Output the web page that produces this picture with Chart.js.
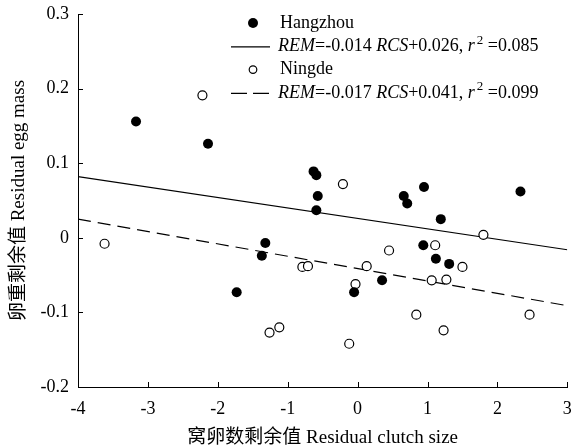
<!DOCTYPE html>
<html>
<head>
<meta charset="utf-8">
<script src="https://cdn.jsdelivr.net/npm/chart.js@4/dist/chart.umd.min.js"></script>
<style>
    html, body { margin: 0; padding: 0; background: #fff; }
    #wrap { width: 573px; height: 447px; }
</style>
</head>
<body>
<div id="wrap"><canvas id="eggChart" width="573" height="447"></canvas></div>
<script>
// values
const hangzhouX = [-3.17, -2.14, -0.63, -0.59, -0.57, -0.59, -1.32, -1.37, -1.73, 0.95, 0.66, 0.71, 2.33, 1.19, 0.94, 1.12, 1.31, 0.35, -0.05];
const hangzhouY = [0.156, 0.126, 0.089, 0.084, 0.056, 0.037, -0.007, -0.024, -0.073, 0.068, 0.056, 0.046, 0.062, 0.025, -0.010, -0.028, -0.035, -0.057, -0.073];

const ningdeX = [-2.22, -0.21, -3.62, -0.79, -0.71, -1.26, -1.12, 1.80, 0.45, 1.11, 0.13, 1.50, -0.03, 1.06, 1.27, 0.84, 2.46, 1.23, -0.12];
const ningdeY = [0.191, 0.072, -0.008, -0.039, -0.038, -0.127, -0.120, 0.004, -0.017, -0.010, -0.038, -0.039, -0.062, -0.057, -0.056, -0.103, -0.103, -0.124, -0.142];

// regression line end points
const fitX = [-4, 3];
const hangzhouFitY = [0.082, -0.016];
const ningdeFitY = [0.025, -0.091];

const xTickLabels = ['-4', '-3', '-2', '-1', '0', '1', '2', '3'];
const yTickLabels = ['-0.2', '-0.1', '0', '0.1', '0.2', '0.3'];

const xTitle = '窝卵数剩余值 Residual clutch size';
const yTitle = '卵重剩余值 Residual egg mass';

const SERIF = "'Liberation Serif', 'Noto Sans CJK SC', serif";

const toPoints = (xs, ys) => xs.map((x, i) => ({ x: x, y: ys[i] }));

// legend rows: marker type + rich text runs
const legendRows = [
    { mark: 'dot', runs: [['Hangzhou', 'n']] },
    { mark: 'solid', runs: [['REM', 'i'], ['=-0.014 ', 'n'], ['RCS', 'i'], ['+0.026, ', 'n'], ['r', 'i'], ['2', 's'], [' =0.085', 'n']] },
    { mark: 'ring', runs: [['Ningde', 'n']] },
    { mark: 'dash', runs: [['REM', 'i'], ['=-0.017 ', 'n'], ['RCS', 'i'], ['+0.041, ', 'n'], ['r', 'i'], ['2', 's'], [' =0.099', 'n']] }
];

// drop the extra room Chart.js keeps for overhanging tick labels
const noLabelPadding = scale => {
    scale.paddingLeft = 0;
    scale.paddingRight = 0;
    scale.paddingTop = 0;
    scale.paddingBottom = 0;
};

const decorPlugin = {
    id: 'decor',
    afterDraw(chart) {
        const { ctx, chartArea: a, scales: { x, y } } = chart;
        ctx.save();
        ctx.strokeStyle = '#000';
        ctx.lineWidth = 1;

        // inward tick marks
        ctx.beginPath();
        x.ticks.forEach(t => {
            const p = Math.round(x.getPixelForValue(t.value)) + 0.5;
            ctx.moveTo(p, a.bottom);
            ctx.lineTo(p, a.bottom - 5);
        });
        y.ticks.forEach(t => {
            const p = Math.round(y.getPixelForValue(t.value)) + 0.5;
            ctx.moveTo(a.left, p);
            ctx.lineTo(a.left + 5, p);
        });
        ctx.stroke();

        // legend
        const markX = a.left + 175;
        const lineL = a.left + 153;
        const lineR = a.left + 192;
        const textX = a.left + 200;
        ctx.fillStyle = '#000';
        ctx.textBaseline = 'middle';
        legendRows.forEach((row, i) => {
            const ry = a.top + 9 + i * 23.3;
            if (row.mark === 'dot') {
                ctx.beginPath();
                ctx.arc(markX, ry, 5, 0, Math.PI * 2);
                ctx.fill();
            } else if (row.mark === 'ring') {
                ctx.beginPath();
                ctx.lineWidth = 1.2;
                ctx.arc(markX, ry, 3.8, 0, Math.PI * 2);
                ctx.stroke();
            } else {
                ctx.beginPath();
                ctx.lineWidth = 1.2;
                ctx.setLineDash(row.mark === 'dash' ? [16, 6] : []);
                ctx.moveTo(lineL, ry + 0.5);
                ctx.lineTo(lineR, ry + 0.5);
                ctx.stroke();
                ctx.setLineDash([]);
            }
            let tx = row.mark === 'dot' || row.mark === 'ring' ? textX + 2 : textX;
            row.runs.forEach(([txt, style]) => {
                let ty = ry;
                if (style === 'i') ctx.font = 'italic 18px ' + SERIF;
                else if (style === 's') { ctx.font = '13px ' + SERIF; ty = ry - 6; tx += 2; }
                else ctx.font = '18px ' + SERIF;
                ctx.fillText(txt, tx, ty);
                tx += ctx.measureText(txt).width;
            });
        });
        ctx.restore();
    }
};

Chart.defaults.font.family = SERIF;
Chart.defaults.color = '#000';

const ctx = document.getElementById('eggChart').getContext('2d');
new Chart(ctx, {
    type: 'scatter',
    data: {
        datasets: [
            {
                label: 'Hangzhou',
                data: toPoints(hangzhouX, hangzhouY),
                pointRadius: 5,
                backgroundColor: '#000',
                borderColor: '#000',
                borderWidth: 0
            },
            {
                label: 'Ningde',
                data: toPoints(ningdeX, ningdeY),
                pointRadius: 4.5,
                backgroundColor: '#fff',
                borderColor: '#000',
                borderWidth: 1.2
            },
            {
                label: 'Hangzhou fit',
                type: 'line',
                data: toPoints(fitX, hangzhouFitY),
                borderColor: '#000',
                borderWidth: 1.2,
                pointRadius: 0
            },
            {
                label: 'Ningde fit',
                type: 'line',
                data: toPoints(fitX, ningdeFitY),
                borderColor: '#000',
                borderWidth: 1.2,
                borderDash: [13, 7],
                pointRadius: 0
            }
        ]
    },
    options: {
        responsive: false,
        animation: false,
        devicePixelRatio: 1,
        layout: { padding: { top: 14, right: 5, bottom: 0, left: 0 } },
        plugins: {
            legend: { display: false },
            tooltip: { enabled: false }
        },
        scales: {
            x: {
                type: 'linear',
                min: -4,
                max: 3,
                afterFit: scale => { scale.height = 60; noLabelPadding(scale); },
                grid: { display: false, drawTicks: false },
                border: { display: true, color: '#000', width: 1 },
                ticks: {
                    stepSize: 1,
                    padding: 11,
                    font: { size: 18 },
                    callback: (v, i) => xTickLabels[i]
                },
                title: {
                    display: true,
                    text: xTitle,
                    font: { size: 19, lineHeight: 1 },
                    padding: { top: 0, bottom: -1 }
                }
            },
            y: {
                type: 'linear',
                min: -0.2,
                max: 0.3,
                afterFit: scale => { scale.width = 78; noLabelPadding(scale); },
                grid: { display: false, drawTicks: false },
                border: { display: true, color: '#000', width: 1 },
                ticks: {
                    stepSize: 0.1,
                    padding: 9,
                    font: { size: 18 },
                    callback: (v, i) => yTickLabels[i]
                },
                title: {
                    display: true,
                    text: yTitle,
                    font: { size: 19, lineHeight: 1.2 },
                    padding: { top: 8, bottom: 0 }
                }
            }
        }
    },
    plugins: [decorPlugin]
});
</script>
</body>
</html>
